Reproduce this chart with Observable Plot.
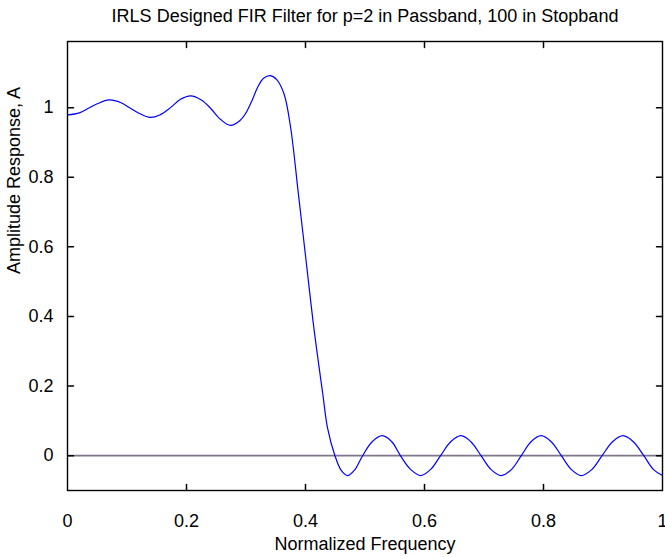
<!DOCTYPE html>
<html>
<head>
<meta charset="utf-8">
<script src="https://cdn.jsdelivr.net/npm/d3@7"></script>
<script src="https://cdn.jsdelivr.net/npm/@observablehq/plot@0.6"></script>
<style>
  html, body { margin: 0; padding: 0; background: #fff; }
  svg { display: block; }
</style>
</head>
<body>
<div id="chart"></div>
<script>
// ---- data ----
const titleText = "IRLS Designed FIR Filter for p=2 in Passband, 100 in Stopband";
const xLabel = "Normalized Frequency";
const yLabel = "Amplitude Response, A";

const xTicks = [0, 0.2, 0.4, 0.6, 0.8, 1];
const yTicks = [0, 0.2, 0.4, 0.6, 0.8, 1];

const freq = [
  0, 0.02, 0.035, 0.05, 0.07, 0.09, 0.105, 0.12, 0.139, 0.155, 0.173, 0.19, 0.207,
  0.225, 0.24, 0.258, 0.274, 0.29, 0.30, 0.31, 0.32, 0.33, 0.341, 0.352, 0.364,
  0.375, 0.388, 0.401, 0.414, 0.429, 0.437, 0.4495, 0.46, 0.471, 0.483, 0.496,
  0.512, 0.529, 0.545, 0.5595, 0.577, 0.594, 0.61, 0.627, 0.644, 0.6616, 0.678,
  0.695, 0.712, 0.729, 0.746, 0.7626, 0.779, 0.796, 0.813, 0.83, 0.847, 0.8636,
  0.881, 0.8985, 0.916, 0.9338, 0.951, 0.9686, 0.985, 1.0
];
const amp = [
  0.979, 0.985, 0.998, 1.011, 1.022, 1.014, 0.999, 0.984, 0.972, 0.979, 1.0, 1.024, 1.034,
  1.022, 0.999, 0.965, 0.949, 0.963, 0.985, 1.02, 1.06, 1.085, 1.092, 1.080, 1.039,
  0.943, 0.753, 0.560, 0.368, 0.178, 0.08, 0, -0.042, -0.057, -0.04, 0,
  0.04, 0.0575, 0.04, 0, -0.04, -0.057, -0.04, 0, 0.04, 0.0575, 0.04,
  0, -0.04, -0.057, -0.04, 0, 0.04, 0.0575, 0.04, 0, -0.04, -0.057,
  -0.04, 0, 0.04, 0.0575, 0.04, 0, -0.04, -0.057
];
const zeroLine = [0];

const xDomain = [0, 1];
const yDomain = [-0.1, 1.19];

// ---- chart ----
const rows = freq.map((f, i) => ({f, a: amp[i]}));
const font = "'Liberation Sans', Arial, Helvetica, sans-serif";
const tickShape = { draw(ctx, l) { ctx.moveTo(0, 0); ctx.lineTo(0, -l); } };

const chart = Plot.plot({
  width: 665,
  height: 557,
  marginLeft: 67,
  marginRight: 3,
  marginTop: 41,
  marginBottom: 67,
  style: { fontFamily: font, fontSize: "18px", color: "black", background: "white", overflow: "visible" },
  x: { domain: xDomain },
  y: { domain: yDomain },
  marks: [
    Plot.ruleY(zeroLine, { stroke: "#80748a", strokeWidth: 1.8 }),
    Plot.line(rows, { x: "f", y: "a", stroke: "#0000ff", strokeWidth: 1.2, curve: "catmull-rom" }),
    Plot.frame({ stroke: "black", strokeWidth: 1.4 }),
    // inward ticks on all four sides
    Plot.vector(xTicks.slice(1, -1), { x: d => d, frameAnchor: "bottom", length: 6, rotate: 0, anchor: "start", shape: tickShape, stroke: "black" }),
    Plot.vector(xTicks.slice(1, -1), { x: d => d, frameAnchor: "top", length: 6, rotate: 180, anchor: "start", shape: tickShape, stroke: "black" }),
    Plot.vector(yTicks, { y: d => d, frameAnchor: "left", length: 6, rotate: 90, anchor: "start", shape: tickShape, stroke: "black" }),
    Plot.vector(yTicks, { y: d => d, frameAnchor: "right", length: 6, rotate: -90, anchor: "start", shape: tickShape, stroke: "black" }),
    Plot.axisX(xTicks, { anchor: "bottom", tickSize: 0, tickPadding: 24, tickFormat: d => String(d), fontSize: 18, label: null }),
    Plot.axisY(yTicks, { anchor: "left", tickSize: 0, tickPadding: 14, tickFormat: d => String(d), fontSize: 18, label: null }),
    Plot.text([titleText], { text: d => d, frameAnchor: "top", dy: -32, fontSize: 18 }),
    Plot.text([xLabel], { text: d => d, frameAnchor: "bottom", dy: 59, fontSize: 18 }),
    Plot.text([yLabel], { text: d => d, frameAnchor: "left", dx: -53, dy: 8, rotate: -90, fontSize: 18 })
  ]
});
document.getElementById("chart").appendChild(chart);
</script>
</body>
</html>
